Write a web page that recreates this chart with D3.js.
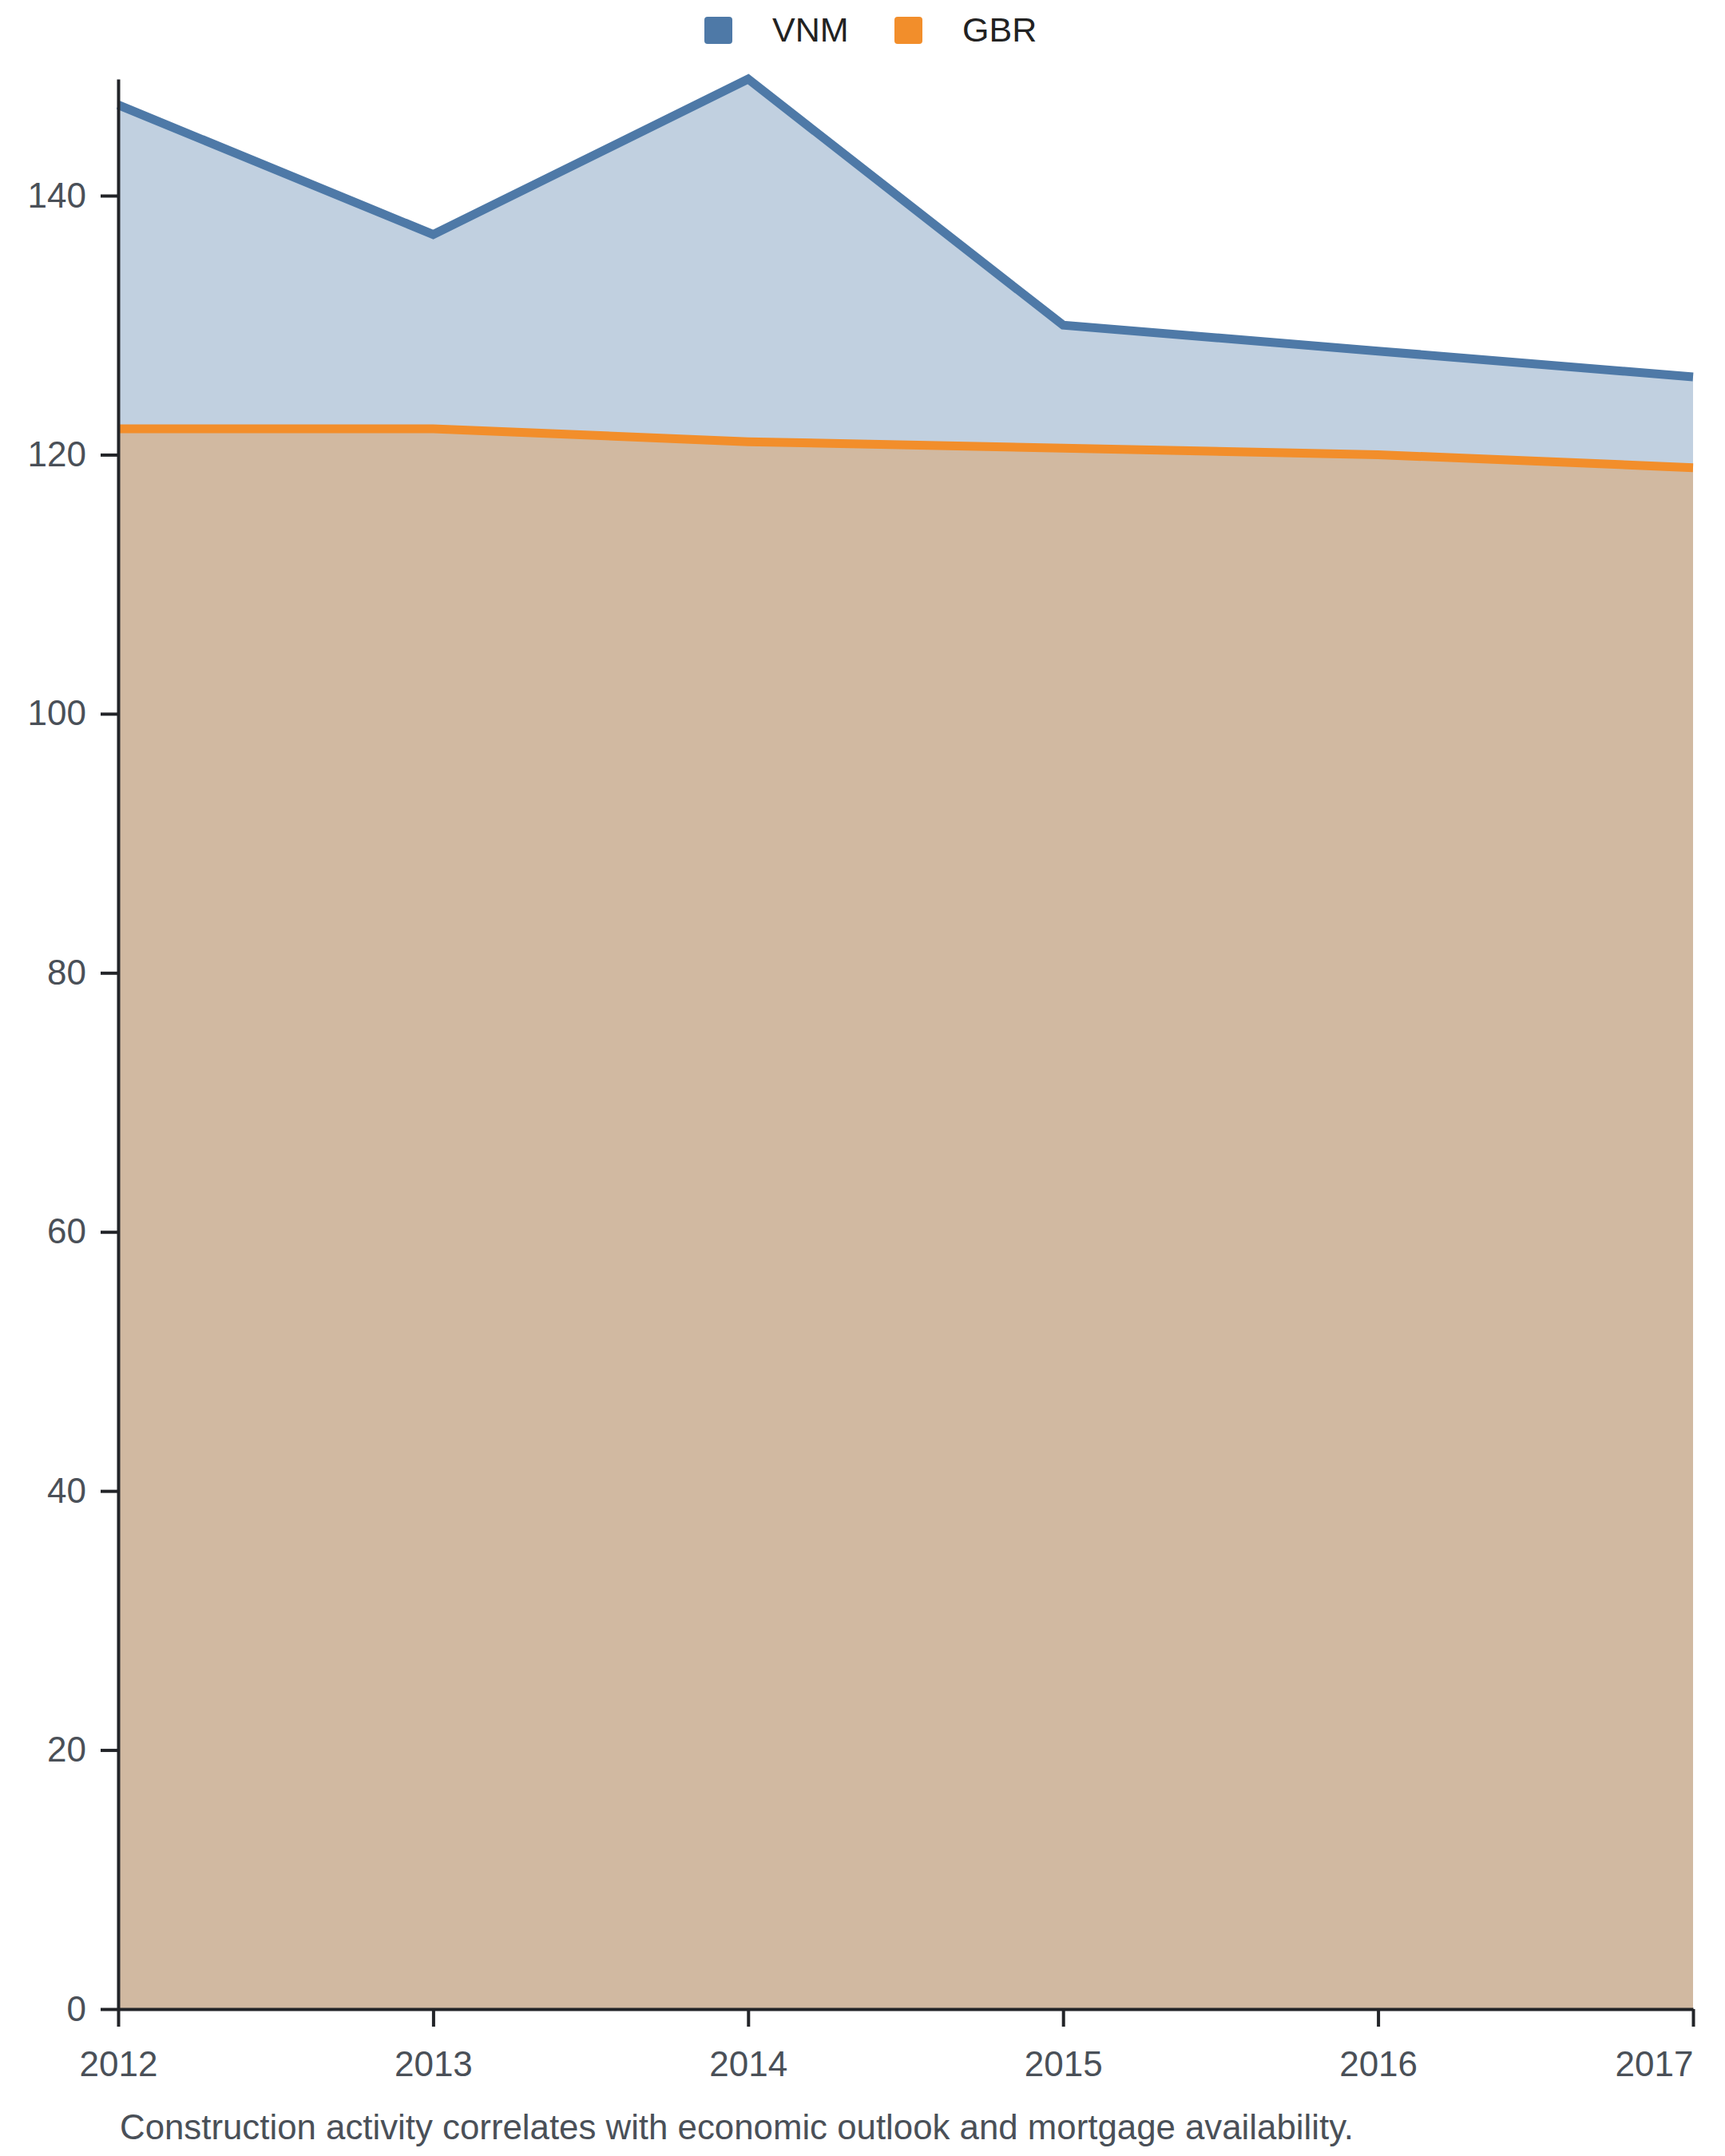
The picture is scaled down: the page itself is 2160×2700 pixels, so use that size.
<!DOCTYPE html>
<html>
<head>
<meta charset="utf-8">
<script src="https://cdn.jsdelivr.net/npm/d3@7"></script>
<style>
	body { margin: 0; background: #fff; }
	text { font-family: 'Liberation Sans', Arial, sans-serif; }
</style>
</head>
<body>
<script>
var years = [2012, 2013, 2014, 2015, 2016, 2017]
var vnmValues = [147, 137, 149, 130, 128, 126]
var gbrValues = [122, 122, 121, 120.5, 120, 119]
var yTicks = [0, 20, 40, 60, 80, 100, 120, 140]
var seriesNames = ['VNM', 'GBR']
var seriesColors = ['#4e79a7', '#f28e2b']
var caption = 'Construction activity correlates with economic outlook and mortgage availability.'

var width = 2160, height = 2700
var margin = { top: 99, right: 40, bottom: 184, left: 148 }

var svg = d3.select('body').append('svg')
	.attr('width', width)
	.attr('height', height)

var x = d3.scalePoint().domain(years).range([margin.left, width - margin.right])
var y = d3.scaleLinear().domain([0, d3.max(vnmValues.concat(gbrValues))]).range([height - margin.bottom, margin.top])

var series = [
	{ name: seriesNames[0], values: vnmValues, color: seriesColors[0] },
	{ name: seriesNames[1], values: gbrValues, color: seriesColors[1] }
]

var area = d3.area()
	.x(function(d, i){ return x(years[i]) })
	.y0(y(0))
	.y1(function(d){ return y(d) })

var line = d3.line()
	.x(function(d, i){ return x(years[i]) })
	.y(function(d){ return y(d) })

// areas overlap from zero, the tan is orange over blue
svg.selectAll('.area').data(series).enter().append('path')
	.attr('class', 'area')
	.attr('d', function(d){ return area(d.values) })
	.style('fill', function(d){ return d.color })
	.style('fill-opacity', 0.35)

svg.selectAll('.line').data(series).enter().append('path')
	.attr('class', 'line')
	.attr('d', function(d){ return line(d.values) })
	.style('fill', 'none')
	.style('stroke', function(d){ return d.color })
	.style('stroke-width', 11)

// axes
var yAxis = svg.append('g')
	.attr('transform', 'translate(' + margin.left + ',0)')
	.call(d3.axisLeft(y).tickValues(yTicks).tickSize(22).tickSizeOuter(0).tickPadding(18))
var xAxis = svg.append('g')
	.attr('transform', 'translate(0,' + (height - margin.bottom) + ')')
	.call(d3.axisBottom(x).tickSize(22).tickSizeOuter(0).tickPadding(20))

;[yAxis, xAxis].forEach(function(g){
	g.select('.domain').style('stroke', '#222428').style('stroke-width', 4)
	g.selectAll('.tick line').style('stroke', '#222428').style('stroke-width', 4)
	g.selectAll('.tick text')
		.style('font-size', '44px')
		.style('fill', '#4a5058')
		.style('font-family', "'Liberation Sans', Arial, sans-serif")
})
xAxis.selectAll('.tick text').attr('dy', '0.95em')
xAxis.selectAll('.tick').filter(function(d){ return d === years[years.length - 1] })
	.select('text').attr('text-anchor', 'end')

// legend
var legend = svg.append('g')
var legendX = [882, 1120]
seriesNames.forEach(function(name, i){
	legend.append('rect')
		.attr('x', legendX[i])
		.attr('y', 21)
		.attr('width', 35)
		.attr('height', 34)
		.attr('rx', 4)
		.style('fill', seriesColors[i])
	legend.append('text')
		.attr('x', legendX[i] + 85)
		.attr('y', 52)
		.style('font-size', '43px')
		.style('fill', '#222')
		.text(name)
})

svg.append('text')
	.attr('x', 150)
	.attr('y', 2679)
	.style('font-size', '43.8px')
	.style('fill', '#4a5058')
	.text(caption)
</script>
</body>
</html>
